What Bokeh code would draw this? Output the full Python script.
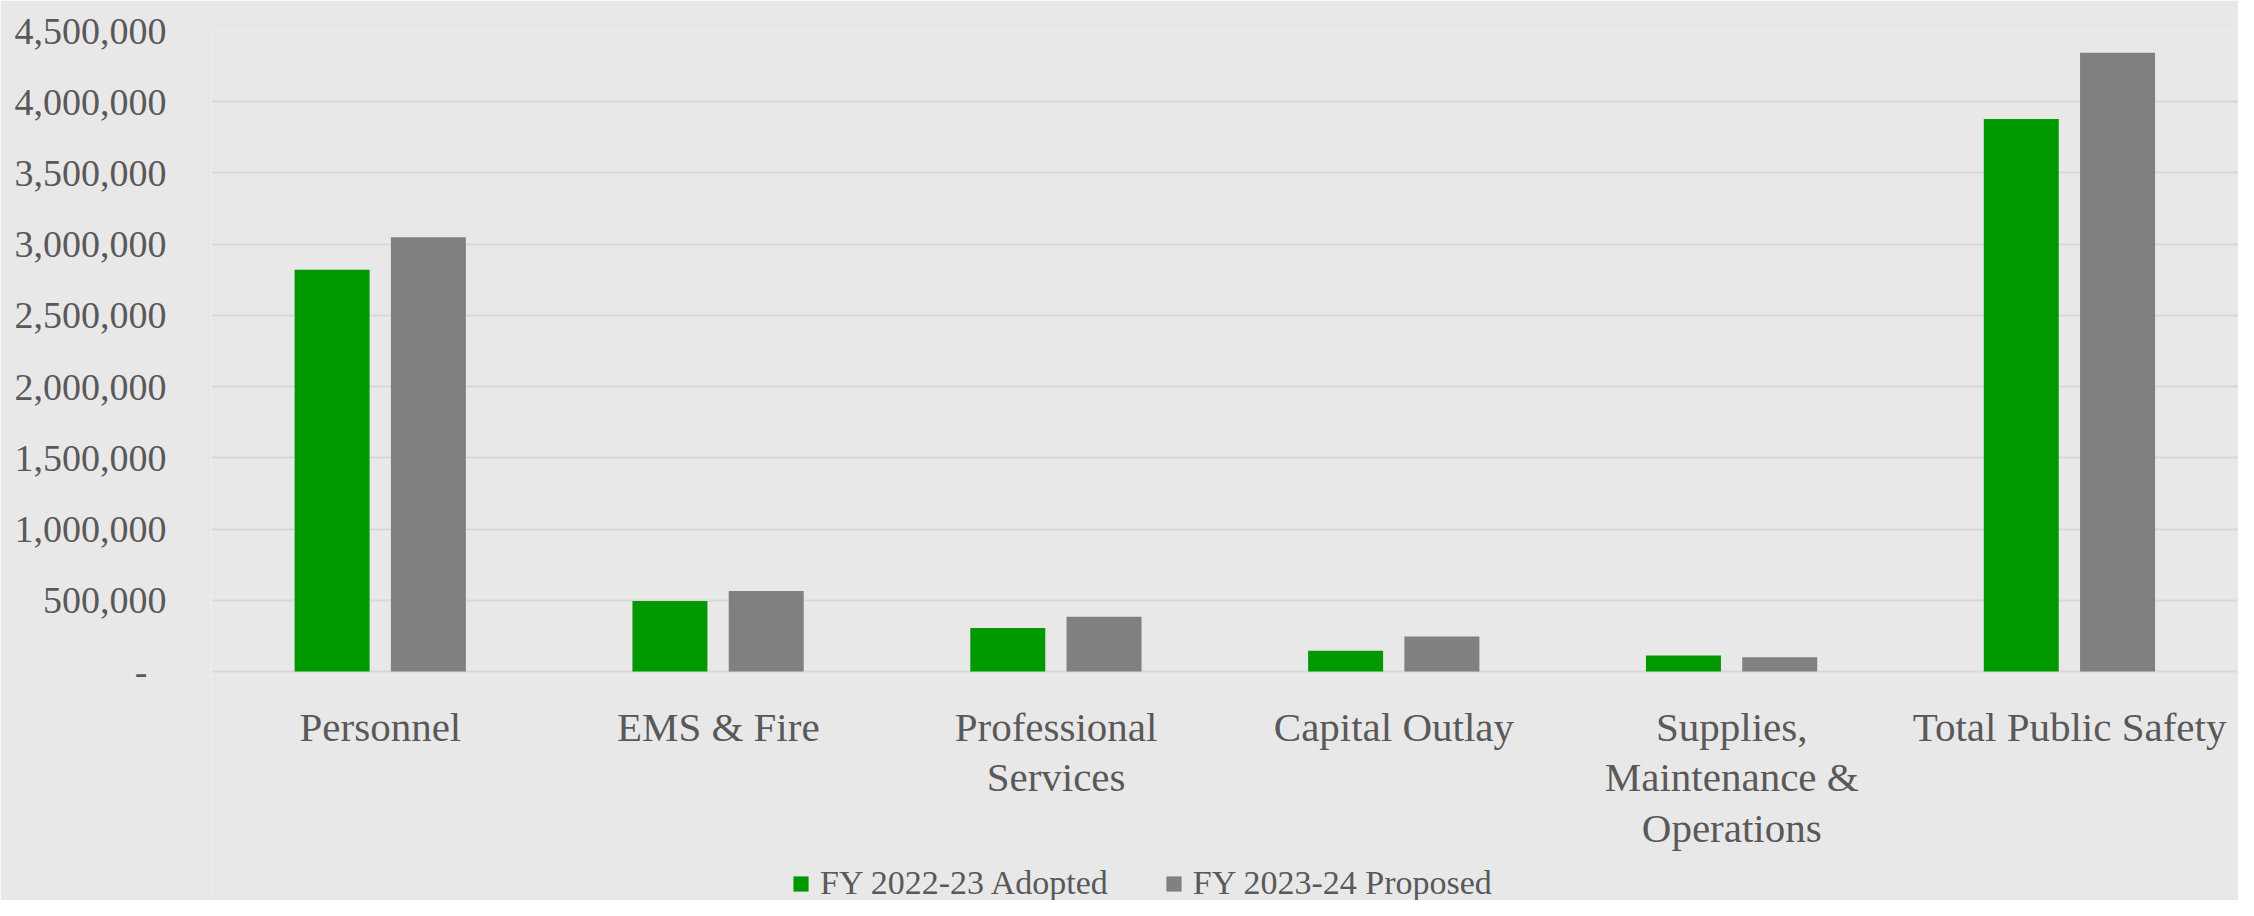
from bokeh.plotting import figure
from bokeh.models import (FactorRange, Range1d, FixedTicker, NumeralTickFormatter,
                          Legend, LegendItem, ColumnDataSource, LabelSet)
from bokeh.core.properties import value
from bokeh.transform import dodge
from bokeh.embed import file_html
from bokeh.resources import INLINE

categories = ["Personnel", "EMS & Fire", "Professional Services", "Capital Outlay",
              "Supplies, Maintenance & Operations", "Total Public Safety"]
category_labels = ["Personnel", "EMS & Fire", "Professional\nServices", "Capital Outlay",
                   "Supplies,\nMaintenance &\nOperations", "Total Public Safety"]
adopted = [2820000, 495000, 305000, 145000, 113000, 3878000]
proposed = [3048000, 565000, 385000, 245000, 100000, 4343000]
series_names = ["FY 2022-23 Adopted", "FY 2023-24 Proposed"]
y_ticks = [0, 500000, 1000000, 1500000, 2000000, 2500000, 3000000, 3500000, 4000000, 4500000]

FONT = "Liberation Serif"
TXT = "#595959"
BG = "#e9e8e9"

W, H = 2238, 900
TOP, ZERO_Y = 30, 671          # pixel rows of the 4.5M gridline and the baseline
Y_MAX = y_ticks[-1]
px_per_unit = (ZERO_Y - TOP) / Y_MAX
y_min = -(H - ZERO_Y) / px_per_unit   # extend the frame below zero to host labels/legend

src = ColumnDataSource(dict(cat=categories, adopted=adopted, proposed=proposed))

p = figure(width=W, height=H, output_backend="svg", toolbar_location=None,
           x_range=FactorRange(*categories, range_padding=0),
           y_range=Range1d(y_min, Y_MAX))
p.min_border_left = 211
p.min_border_right = 0
p.min_border_top = TOP
p.min_border_bottom = 0
p.background_fill_color = BG
p.border_fill_color = BG
p.outline_line_color = None

r1 = p.vbar(x=dodge("cat", -0.143, range=p.x_range), top="adopted", width=0.222,
            source=src, color="#009900", line_color=None)
r2 = p.vbar(x=dodge("cat", 0.142, range=p.x_range), top="proposed", width=0.222,
            source=src, color="#808080", line_color=None)

# y axis
p.yaxis.ticker = FixedTicker(ticks=y_ticks)
p.yaxis.formatter = NumeralTickFormatter(format="0,0")
p.yaxis.major_label_overrides = {0: "-\u00a0\u00a0"}
p.yaxis.axis_line_color = None
p.yaxis.major_tick_line_color = None
p.yaxis.minor_tick_line_color = None
p.yaxis.major_tick_out = 0
p.yaxis.major_label_standoff = 45
p.yaxis.major_label_text_font = FONT
p.yaxis.major_label_text_font_size = "38px"
p.yaxis.major_label_text_color = TXT

p.xaxis.visible = False
p.xgrid.grid_line_color = None
p.ygrid.grid_line_color = "#d8d8d8"
p.ygrid.grid_line_width = 2

# category labels (multi-line), placed under the baseline
lab_x, lab_y, lab_text = [], [], []
for c, lab in zip(categories, category_labels):
    for i, line in enumerate(lab.split("\n")):
        lab_x.append(c)
        lab_y.append((H - ZERO_Y) - 55 - 50.5 * i)
        lab_text.append(line)
lab_src = ColumnDataSource(dict(x=lab_x, y=lab_y, text=lab_text))
labels = LabelSet(x="x", y="y", text="text", source=lab_src, x_units="data", y_units="screen",
                  text_align="center", text_baseline="middle",
                  text_font=value(FONT), text_font_size=value("41px"), text_color=TXT)
p.add_layout(labels)

legend = Legend(items=[LegendItem(label=series_names[0], renderers=[r1]),
                       LegendItem(label=series_names[1], renderers=[r2])],
                orientation="horizontal", location=(580, -2),
                label_text_font=FONT, label_text_font_size="34px", label_text_color=TXT,
                glyph_width=19, glyph_height=19, label_standoff=10, spacing=56,
                padding=0, margin=0, border_line_color=None, background_fill_alpha=0)
p.add_layout(legend, "center")

open("out.html", "w").write(file_html(p, INLINE))
